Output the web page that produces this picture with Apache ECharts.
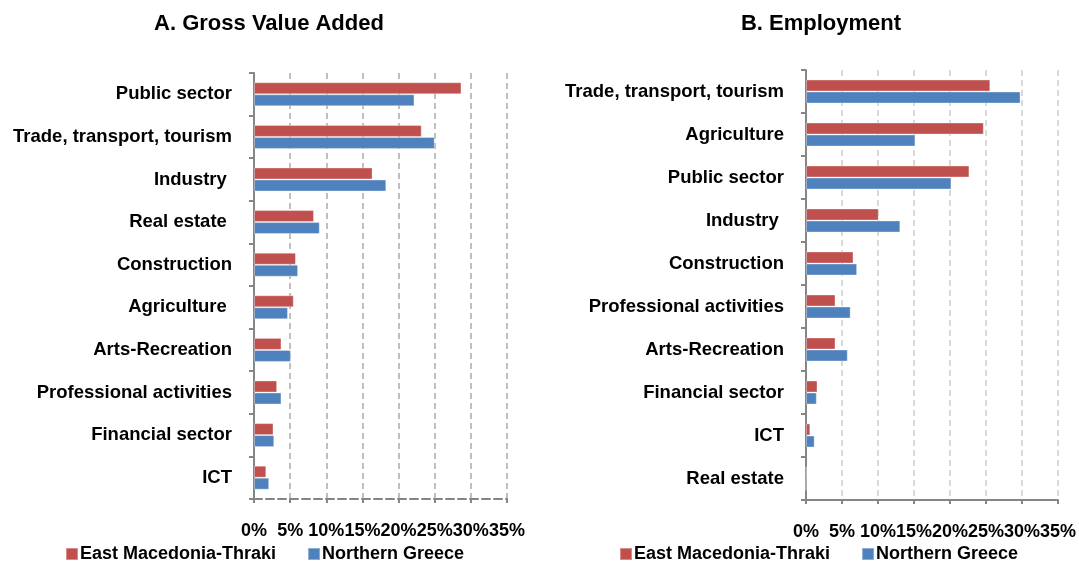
<!DOCTYPE html>
<html><head><meta charset="utf-8">
<script src="https://cdn.jsdelivr.net/npm/echarts@6/dist/echarts.min.js"></script>
<style>html,body{margin:0;padding:0;background:#fff}#c{width:1079px;height:563px}</style>
</head><body><div id="c"></div>
<script>
const seriesNames = ['East Macedonia-Thraki', 'Northern Greece'];
const titles = ['A. Gross Value Added', 'B. Employment'];
const gvaCategories = ['Public sector', 'Trade, transport, tourism', 'Industry ', 'Real estate ', 'Construction', 'Agriculture ', 'Arts-Recreation', 'Professional activities', 'Financial sector', 'ICT'];
const gvaEast  = [28.7, 23.2, 16.4, 8.3, 5.8, 5.5, 3.8, 3.2, 2.7, 1.7];
const gvaNorth = [22.2, 25.0, 18.3, 9.1, 6.1, 4.7, 5.1, 3.8, 2.8, 2.1];
const empCategories = ['Trade, transport, tourism', 'Agriculture', 'Public sector', 'Industry ', 'Construction', 'Professional activities', 'Arts-Recreation', 'Financial sector', 'ICT', 'Real estate'];
const empEast  = [25.6, 24.7, 22.7, 10.1, 6.6, 4.1, 4.1, 1.6, 0.6, 0.05];
const empNorth = [29.8, 15.2, 20.2, 13.1, 7.1, 6.2, 5.8, 1.5, 1.2, 0];
const axisMin = 0, axisMax = 35, axisStep = 5;

const RED = '#C0504D', BLUE = '#4F81BD';
const FONT = 'Liberation Sans, Arial, sans-serif';
const chart = echarts.init(document.getElementById('c'), null, {renderer: 'canvas'});

function xAxis(idx, dashedLine, gridColor) {
  return {
    type: 'value', gridIndex: idx, min: axisMin, max: axisMax, interval: axisStep,
    axisLine: {show: true, lineStyle: {color: '#868686', width: 2, type: dashedLine ? 'dashed' : 'solid'}},
    axisTick: {show: true, length: 4, lineStyle: {color: '#868686', width: 2}},
    axisLabel: {formatter: v => v + '%', margin: 23, color: '#000', fontWeight: 'bold', fontSize: 18, fontFamily: FONT, hideOverlap: false},
    splitLine: {show: true, lineStyle: {color: gridColor, width: 2, type: [6, 4]}}
  };
}
function yAxis(idx, cats, margin) {
  return {
    type: 'category', gridIndex: idx, data: cats, inverse: true,
    axisLine: {show: true, lineStyle: {color: '#868686', width: 2}},
    axisTick: {show: true, length: 5, lineStyle: {color: '#868686', width: 2}},
    axisLabel: {margin: margin, color: '#000', fontWeight: 'bold', fontSize: 18.5, fontFamily: FONT, interval: 0},
    splitLine: {show: false}
  };
}
function bar(name, color, data, idx) {
  return {
    name: name, type: 'bar', xAxisIndex: idx, yAxisIndex: idx, data: data,
    barWidth: 12, barGap: '0%',
    itemStyle: {color: color, borderColor: 'rgba(255,255,255,0.35)', borderWidth: 1},
    silent: true
  };
}
const legendBase = {
  orient: 'horizontal', itemWidth: 12, itemHeight: 12, itemGap: 31, icon: 'rect',
  textStyle: {color: '#000', fontWeight: 'bold', fontSize: 18, fontFamily: FONT, padding: [0, 0, 0, -3]},
  data: seriesNames, selectedMode: false
};

chart.setOption({
  animation: false,
  backgroundColor: '#fff',
  title: [
    {text: titles[0], left: 264, top: 8, textAlign: 'center', textStyle: {fontSize: 22, fontWeight: 'bold', fontFamily: FONT, color: '#000'}},
    {text: titles[1], left: 816, top: 8, textAlign: 'center', textStyle: {fontSize: 22, fontWeight: 'bold', fontFamily: FONT, color: '#000'}}
  ],
  legend: [
    Object.assign({}, legendBase, {left: 60, top: 540}),
    Object.assign({}, legendBase, {left: 614, top: 540})
  ],
  grid: [
    {left: 254, top: 73, width: 253, height: 426, containLabel: false},
    {left: 806, top: 70, width: 254, height: 430, containLabel: false}
  ],
  xAxis: [xAxis(0, true, '#bfbfbf'), xAxis(1, false, '#d9d9d9')],
  yAxis: [yAxis(0, gvaCategories, 22), yAxis(1, empCategories, 22)],
  series: [
    bar(seriesNames[0], RED, gvaEast, 0),
    bar(seriesNames[1], BLUE, gvaNorth, 0),
    bar(seriesNames[0], RED, empEast, 1),
    bar(seriesNames[1], BLUE, empNorth, 1)
  ]
});
</script></body></html>
